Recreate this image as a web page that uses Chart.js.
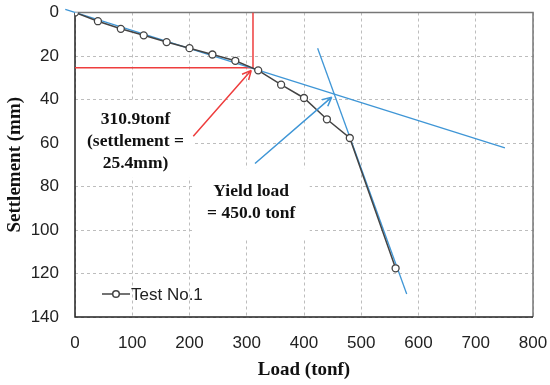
<!DOCTYPE html>
<html>
<head>
<meta charset="utf-8">
<script src="https://cdn.jsdelivr.net/npm/chart.js@4.4.1/dist/chart.umd.min.js"></script>
<style>
  html, body { margin: 0; padding: 0; background: #fff; }
  #wrap { width: 550px; height: 385px; }
</style>
</head>
<body>
<div id="wrap"><canvas id="chart"></canvas></div>
<script>
/* ── DATA ─────────────────────────────────────────────── */
const loads       = [0, 40, 80, 120, 160, 200, 240, 280, 320, 360, 400, 440, 480, 560];
const settlements = [0, 4.0, 7.5, 10.5, 13.6, 16.4, 19.3, 22.2, 26.6, 33.2, 39.3, 49.1, 57.7, 117.6];

const xTicks = [0, 100, 200, 300, 400, 500, 600, 700, 800];
const yTicks = [0, 20, 40, 60, 80, 100, 120, 140];

// tangent lines used to find the yield load
const initTangentX  = [-17, 751];
const initTangentY  = [-1.4, 62.2];
const yieldTangentX = [423.8, 579.4];
const yieldTangentY = [16.4, 129.4];

// 25.4 mm settlement reference (red)
const refLineX = [0, 310.9, 310.9];
const refLineY = [25.4, 25.4, 0];

/* ── ANNOTATIONS (data coords) ─────────────────────────── */
const noteBoxes = [
  { x0: 0,   x1: 206, y0: 40.8, y1: 76 },
  { x0: 206, x1: 410, y0: 71.6, y1: 103.7 }
];
const notes = [
  { x: 105.7, y: 49.2, text: '310.9tonf' },
  { x: 105.7, y: 59.5, text: '(settlement =' },
  { x: 105.7, y: 69.4, text: '25.4mm)' },
  { x: 307.8, y: 82.4, text: 'Yield load' },
  { x: 307.8, y: 92.3, text: '= 450.0 tonf' }
];
const arrows = [
  { from: [206.6, 56.9], to: [307.9, 26.6], color: '#ee3d3d' },
  { from: [314.4, 69.4], to: [448.4, 38.9], color: '#3f96d6' }
];

const BLUE = '#3f96d6';
const RED  = '#ee3d3d';
const DARK = '#444';

const toPts = (xs, ys) => xs.map((x, i) => ({ x, y: ys[i] }));

// drop the label-overflow padding so the plot box sits where the layout padding says
const noEdgePad = s => { s.paddingTop = s.paddingBottom = s.paddingLeft = s.paddingRight = 0; };

const overlay = {
  id: 'overlay',
  beforeDatasetsDraw(chart) {
    const { ctx, chartArea: a, scales: { x, y } } = chart;
    ctx.save();
    ctx.fillStyle = '#fff';
    noteBoxes.forEach(b => {
      const l = x.getPixelForValue(b.x0), r = x.getPixelForValue(b.x1);
      const t = y.getPixelForValue(b.y0), bt = y.getPixelForValue(b.y1);
      ctx.fillRect(l, t, r - l, bt - t);
    });
    ctx.lineWidth = 1.5;
    ctx.strokeStyle = '#777';
    ctx.beginPath();
    ctx.moveTo(a.left, a.top); ctx.lineTo(a.right, a.top); ctx.lineTo(a.right, a.bottom);
    ctx.stroke();
    ctx.strokeStyle = '#222';
    ctx.beginPath();
    ctx.moveTo(a.left, a.top); ctx.lineTo(a.left, a.bottom); ctx.lineTo(a.right, a.bottom);
    ctx.stroke();
    ctx.restore();
  },
  afterDatasetsDraw(chart) {
    const { ctx, chartArea: a, scales: { x, y } } = chart;
    ctx.save();
    // arrows
    arrows.forEach(ar => {
      const x1 = x.getPixelForValue(ar.from[0]), y1 = y.getPixelForValue(ar.from[1]);
      const x2 = x.getPixelForValue(ar.to[0]),   y2 = y.getPixelForValue(ar.to[1]);
      const ang = Math.atan2(y2 - y1, x2 - x1);
      ctx.strokeStyle = ar.color;
      ctx.lineWidth = 1.5;
      ctx.beginPath();
      ctx.moveTo(x1, y1); ctx.lineTo(x2, y2);
      [-0.45, 0.45].forEach(d => {
        ctx.moveTo(x2, y2);
        ctx.lineTo(x2 - 10 * Math.cos(ang + d), y2 - 10 * Math.sin(ang + d));
      });
      ctx.stroke();
    });
    // notes
    ctx.fillStyle = '#111';
    ctx.font = 'bold 17.5px "Liberation Serif", "Times New Roman", serif';
    ctx.textAlign = 'center';
    ctx.textBaseline = 'middle';
    notes.forEach(n => ctx.fillText(n.text, x.getPixelForValue(n.x), y.getPixelForValue(n.y)));
    // legend
    const lx = a.left + 27, ly = a.bottom - 23;
    ctx.strokeStyle = DARK;
    ctx.lineWidth = 1.5;
    ctx.beginPath(); ctx.moveTo(lx, ly); ctx.lineTo(lx + 28, ly); ctx.stroke();
    ctx.fillStyle = '#fff';
    ctx.beginPath(); ctx.arc(lx + 14, ly, 3.3, 0, Math.PI * 2); ctx.fill(); ctx.stroke();
    ctx.fillStyle = '#222';
    ctx.font = '17px "Liberation Sans", Arial, sans-serif';
    ctx.textAlign = 'left';
    ctx.fillText('Test No.1', lx + 29, ly + 1);
    ctx.restore();
  }
};

new Chart(document.getElementById('chart'), {
  type: 'line',
  data: {
    datasets: [
      {
        label: 'Test No.1',
        data: toPts(loads, settlements),
        borderColor: DARK,
        borderWidth: 1.5,
        pointRadius: 3.5,
        pointBorderWidth: 1.3,
        pointBackgroundColor: '#fff',
        pointBorderColor: DARK,
        tension: 0,
        order: 0
      },
      {
        data: toPts(initTangentX, initTangentY),
        borderColor: BLUE, borderWidth: 1.3, pointRadius: 0, clip: false, order: 1
      },
      {
        data: toPts(yieldTangentX, yieldTangentY),
        borderColor: BLUE, borderWidth: 1.3, pointRadius: 0, clip: false, order: 1
      },
      {
        data: toPts(refLineX, refLineY),
        borderColor: RED, borderWidth: 1.5, pointRadius: 0, order: 2
      }
    ]
  },
  options: {
    responsive: true,
    maintainAspectRatio: false,
    animation: false,
    layout: { padding: { top: 12.5, right: 17, left: 0, bottom: 0 } },
    scales: {
      x: {
        type: 'linear',
        min: xTicks[0],
        max: xTicks[xTicks.length - 1],
        afterFit: s => { s.height = 68; noEdgePad(s); },
        afterBuildTicks: s => { s.ticks = xTicks.map(v => ({ value: v })); },
        ticks: { color: '#222', padding: 16, font: { family: 'Liberation Sans', size: 17 } },
        grid: { color: '#bdbdbd', drawTicks: false },
        border: { display: false, dash: [3, 3] },
        title: {
          display: true, text: 'Load (tonf)', color: '#111',
          font: { family: 'Liberation Serif', size: 19, weight: 'bold' }
        }
      },
      y: {
        type: 'linear',
        reverse: true,
        min: yTicks[0],
        max: yTicks[yTicks.length - 1],
        afterFit: s => { s.width = 75; noEdgePad(s); },
        afterBuildTicks: s => { s.ticks = yTicks.map(v => ({ value: v })); },
        ticks: { color: '#222', padding: 16, font: { family: 'Liberation Sans', size: 17 } },
        grid: { color: '#bdbdbd', drawTicks: false },
        border: { display: false, dash: [3, 3] },
        title: {
          display: true, text: 'Settlement (mm)', color: '#111',
          font: { family: 'Liberation Serif', size: 19, weight: 'bold' }
        }
      }
    },
    plugins: {
      legend : { display: false },
      tooltip: { enabled: false }
    }
  },
  plugins: [overlay]
});
</script>
</body>
</html>
